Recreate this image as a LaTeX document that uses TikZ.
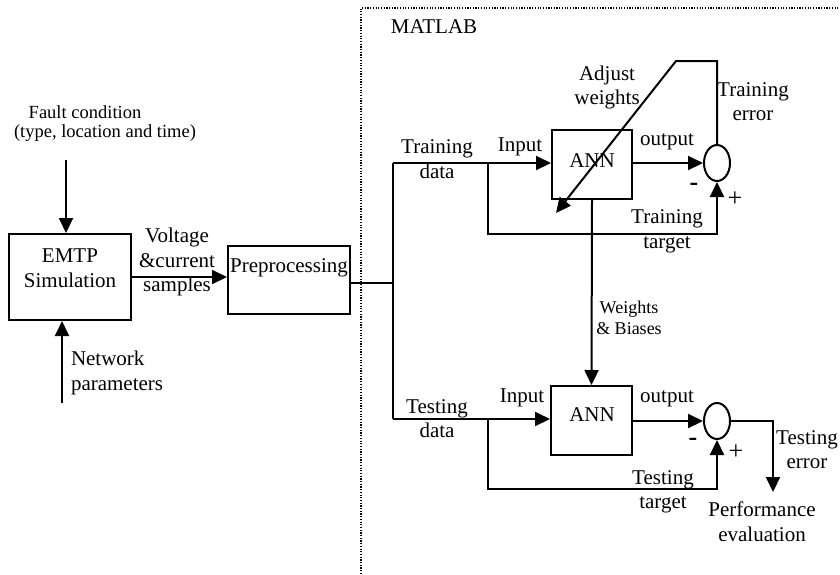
\documentclass[tikz,border=0pt]{standalone}
\usepackage{fontspec}
\setmainfont{Liberation Serif}
\usetikzlibrary{arrows.meta,shapes.geometric}
\begin{document}
\begin{tikzpicture}[x=1pt,y=-1pt,
  line width=2pt,
  txt/.style={inner sep=0pt,align=center,font=\fontsize{21}{24.5}\selectfont},
  smalltxt/.style={inner sep=0pt,align=center,font=\fontsize{18.5}{21}\selectfont},
  signtxt/.style={inner sep=0pt,font=\fontsize{26}{26}\selectfont},
  blk/.style={draw,rectangle,inner sep=0pt},
  sumnode/.style={draw,ellipse,inner sep=0pt,minimum width=26pt,minimum height=36pt},
  arr/.style={-{Triangle[length=15pt,width=14pt]}},
  frame/.style={line width=1.2pt,dash pattern=on 1.2pt off 1.5pt}]
\useasboundingbox (0,0) rectangle (840,574);
% MATLAB frame
\draw[frame] (361,574) -- (361,8) -- (840,8);
\node[txt] (matlab) at (434,27) {MATLAB};
% left blocks
\node[blk,minimum width=122pt,minimum height=86pt] (emtp) at (70,277) {};
\node[txt] (emtptxt) at (70,268) {EMTP\\Simulation};
\node[blk,minimum width=122pt,minimum height=68pt] (pre) at (289,280) {};
\node[txt] (pretxt) at (289,268) {Preprocessing};
\node[smalltxt] (fault1) at (85,112) {Fault condition};
\node[smalltxt] (fault2) at (105,133) {(type, location and time)};
\coordinate (ftop) at (66,160);
\coordinate (nbot) at (62,403);
\draw[arr] (ftop) -- (ftop |- emtp.north);
\draw[arr] (nbot) -- (nbot |- emtp.south);
\node[txt,anchor=west,align=left] (net) at (70,373) {Network\\parameters};
\draw[arr] (emtp.east) -- (pre.west |- emtp.east);
\node[txt] (volt) at (177,262) {Voltage\\\&current\\samples};
% bus
\coordinate (busmid) at (393,283);
\coordinate (bustop) at (393,163);
\coordinate (busbot) at (393,419);
\draw ([yshift=-3pt]pre.east) -- (busmid);
\draw (bustop) -- (busbot);
% training ANN
\node[blk,minimum width=80pt,minimum height=69pt] (ann1) at (592,164.5) {};
\node[txt] (ann1txt) at (592,161) {ANN};
\node[sumnode] (sum1) at (717,163) {};
\draw[arr] (bustop) -- (ann1.west |- bustop);
\draw[arr] (ann1.east |- sum1.west) -- (sum1.west);
\coordinate (tap1) at (488,163);
\coordinate (tt1) at (488,234);
\draw[arr] (tap1) -- (tt1) -- (tt1 -| sum1.south) -- (sum1.south);
\coordinate (te1) at (717,61);
\coordinate (aw1) at (676,61);
\coordinate (aw2) at (556,213);
\draw[arr] (sum1.north) -- (te1) -- (aw1) -- (aw2);
\node[txt] (tdata) at (437,159) {Training\\data};
\node[txt] (in1) at (520,147) {Input};
\node[txt] (out1) at (667,142) {output};
\node[txt] (adj) at (607,87.5) {Adjust\\weights};
\node[txt] (terr) at (753,101.5) {Training\\error};
\node[txt] (ttar) at (667,231.5) {Training\\target};
\node[signtxt] (m1) at (694,187) {\textbf{-}};
\node[signtxt] (p1) at (735,199) {+};
% testing ANN
\node[blk,minimum width=81pt,minimum height=69pt] (ann2) at (591.5,420.5) {};
\node[txt] (ann2txt) at (592,415) {ANN};
\node[sumnode] (sum2) at (717,421) {};
\draw[arr] (ann1.south) -- (ann2.north);
\node[smalltxt,font=\fontsize{18}{21}\selectfont] (wb) at (629,317.5) {Weights\\\& Biases};
\draw[arr] (busbot) -- (ann2.west |- busbot);
\draw[arr] (ann2.east |- sum2.west) -- (sum2.west);
\coordinate (tap2) at (488,419);
\coordinate (tt2) at (488,489);
\draw[arr] (tap2) -- (tt2) -- (tt2 -| sum2.south) -- (sum2.south);
\coordinate (te2) at (773,421);
\coordinate (pe) at (773,492);
\draw[arr] (sum2.east) -- (te2) -- (pe);
\node[txt] (tsdata) at (437,418.5) {Testing\\data};
\node[txt] (in2) at (522,398) {Input};
\node[txt] (out2) at (667,399) {output};
\node[signtxt] (m2) at (693,442) {\textbf{-}};
\node[signtxt] (p2) at (736,452) {+};
\node[txt] (tserr) at (807,449.5) {Testing\\error};
\node[txt] (tstar) at (663,492) {Testing\\target};
\node[txt] (perf) at (762,521.5) {Performance\\evaluation};
\end{tikzpicture}
\end{document}
